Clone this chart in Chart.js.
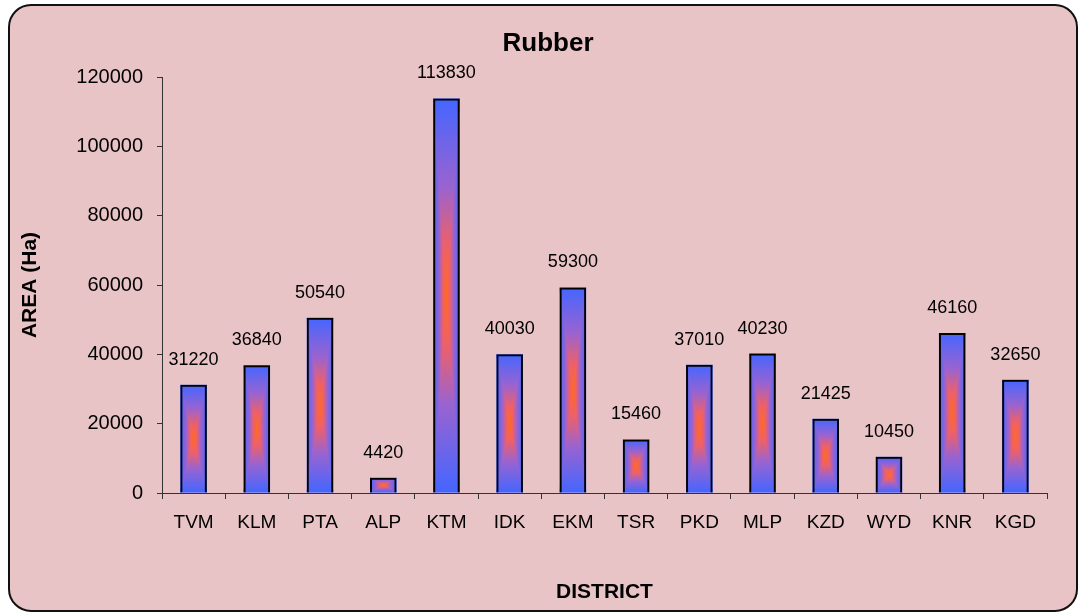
<!DOCTYPE html>
<html>
<head>
<meta charset="utf-8">
<script src="https://cdn.jsdelivr.net/npm/chart.js@4.4.1/dist/chart.umd.min.js"></script>
<style>
  html, body { margin: 0; padding: 0; background: #fff; }
  #wrap { width: 1078px; height: 613px; }
</style>
</head>
<body>
<div id="wrap"><canvas id="rubberChart" width="1078" height="613"></canvas></div>
<script>
const districts = ['TVM', 'KLM', 'PTA', 'ALP', 'KTM', 'IDK', 'EKM', 'TSR', 'PKD', 'MLP', 'KZD', 'WYD', 'KNR', 'KGD'];
const areaHa = [31220, 36840, 50540, 4420, 113830, 40030, 59300, 15460, 37010, 40230, 21425, 10450, 46160, 32650];
const yTicks = [0, 20000, 40000, 60000, 80000, 100000, 120000];

const FONT = "'Liberation Sans', Arial, sans-serif";

// pink card with the rounded black frame, plus the title
const cardPlugin = {
  id: 'card',
  beforeDraw(chart) {
    const c = chart.ctx;
    c.save();
    c.fillStyle = '#fff';
    c.fillRect(0, 0, chart.width, chart.height);
    c.beginPath();
    c.roundRect(9, 5, 1068, 606, 22);
    c.fillStyle = '#e9c4c6';
    c.fill();
    c.lineWidth = 2;
    c.strokeStyle = '#111';
    c.stroke();
    c.fillStyle = '#000';
    c.font = 'bold 26px ' + FONT;
    c.textAlign = 'center';
    c.textBaseline = 'middle';
    c.fillText('Rubber', 548, 44);
    c.restore();
  }
};

function gradFill(c, pts, x0, y0, x1, y1) {
  const g = c.createLinearGradient(x0, y0, x1, y1);
  g.addColorStop(0, '#4466ff');
  g.addColorStop(0.45, '#9a63d0');
  g.addColorStop(0.75, '#ee6068');
  g.addColorStop(1, '#ff6a22');
  c.beginPath();
  c.moveTo(pts[0][0], pts[0][1]);
  c.lineTo(pts[1][0], pts[1][1]);
  c.lineTo(pts[2][0], pts[2][1]);
  c.closePath();
  c.fillStyle = g;
  c.strokeStyle = g;
  c.lineWidth = 1;
  c.fill();
  c.stroke();
}

// box ("from centre") gradient inside every bar
const boxGradient = {
  id: 'boxGradient',
  beforeDatasetsDraw(chart) {
    const c = chart.ctx;
    chart.getDatasetMeta(0).data.forEach(bar => {
      const p = bar.getProps(['x', 'y', 'base', 'width'], true);
      const L = p.x - p.width / 2, R = p.x + p.width / 2;
      const T = Math.min(p.y, p.base), B = Math.max(p.y, p.base);
      const cx = p.x, cy = (T + B) / 2;
      c.save();
      c.beginPath();
      c.rect(L, T, R - L, B - T);
      c.clip();
      gradFill(c, [[L, T], [R, T], [cx, cy]], cx, T, cx, cy);
      gradFill(c, [[L, B], [R, B], [cx, cy]], cx, B, cx, cy);
      gradFill(c, [[L, T], [L, B], [cx, cy]], L, cy, cx, cy);
      gradFill(c, [[R, T], [R, B], [cx, cy]], R, cy, cx, cy);
      c.restore();
    });
  }
};

const valueLabels = {
  id: 'valueLabels',
  afterDatasetsDraw(chart) {
    const c = chart.ctx;
    const values = chart.data.datasets[0].data;
    c.save();
    c.fillStyle = '#000';
    c.font = '18px ' + FONT;
    c.textAlign = 'center';
    c.textBaseline = 'middle';
    chart.getDatasetMeta(0).data.forEach((bar, i) => {
      c.fillText(String(values[i]), bar.x, bar.y - 25);
    });
    c.restore();
  }
};

const ctx = document.getElementById('rubberChart').getContext('2d');
new Chart(ctx, {
  type: 'bar',
  data: {
    labels: districts,
    datasets: [{
      data: areaHa,
      backgroundColor: 'rgba(0,0,0,0)',
      borderColor: '#000',
      borderWidth: 2,
      categoryPercentage: 1,
      barPercentage: 0.42
    }]
  },
  options: {
    responsive: false,
    animation: false,
    layout: { padding: { top: 77, left: 18, right: 31, bottom: 8 } },
    plugins: {
      legend: { display: false },
      tooltip: { enabled: false }
    },
    scales: {
      x: {
        grid: { drawOnChartArea: false, offset: true, tickLength: 6, color: '#333' },
        border: { color: '#333', width: 1 },
        ticks: { color: '#000', font: { family: FONT, size: 19 }, padding: 12, maxRotation: 0 },
        title: { display: true, text: 'DISTRICT', color: '#000', font: { family: FONT, size: 21, weight: 'bold' }, padding: 0 },
        afterFit(s) { s.height = 112; }
      },
      y: {
        min: 0,
        max: 120000,
        afterBuildTicks(s) { s.ticks = yTicks.map(v => ({ value: v })); },
        grid: { drawOnChartArea: false, tickLength: 5, color: '#333' },
        border: { color: '#333', width: 1 },
        ticks: { color: '#000', font: { family: FONT, size: 20 }, padding: 14, callback: v => String(v) },
        title: { display: true, text: 'AREA (Ha)', color: '#000', font: { family: FONT, size: 21, weight: 'bold' }, padding: 0 },
        afterFit(s) { s.width = 144; }
      }
    }
  },
  plugins: [cardPlugin, boxGradient, valueLabels]
});
</script>
</body>
</html>
